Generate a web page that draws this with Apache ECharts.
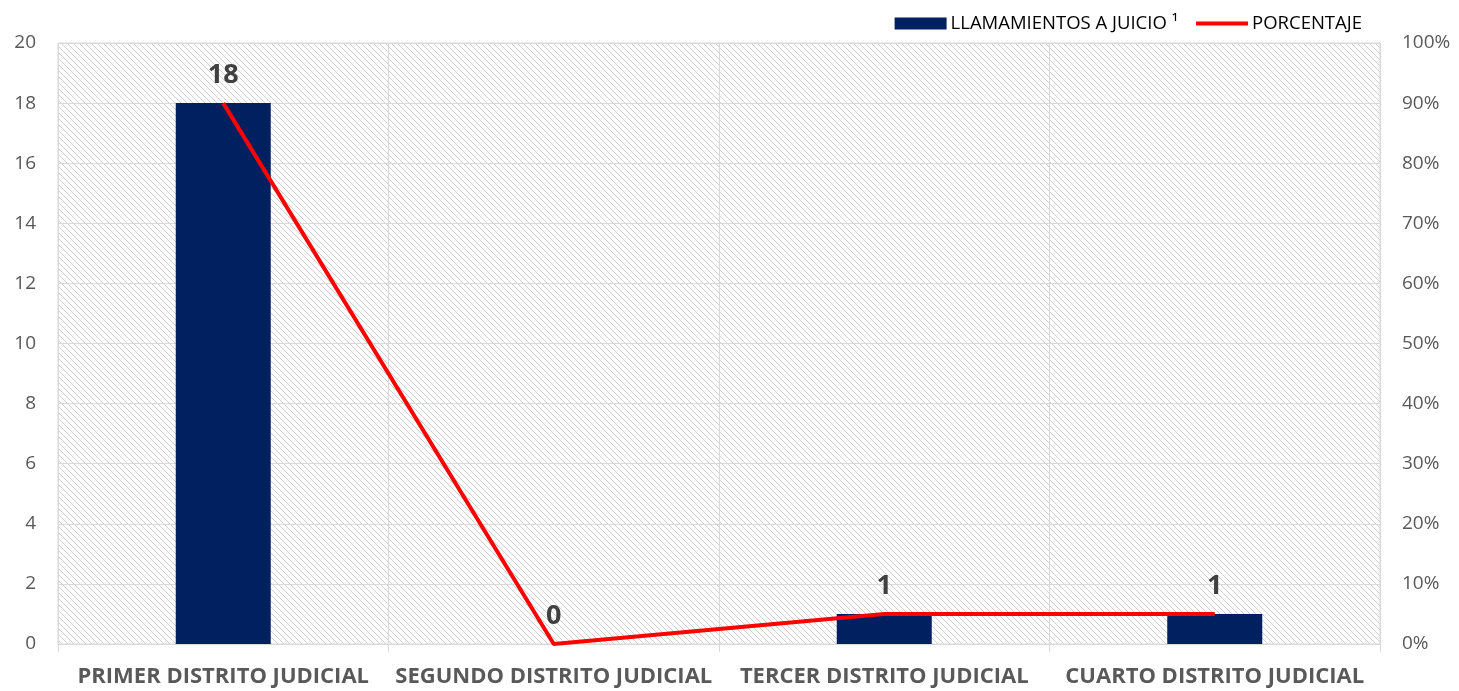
<!DOCTYPE html>
<html><head><meta charset="utf-8">
<script src="https://cdn.jsdelivr.net/npm/echarts@6/dist/echarts.min.js"></script>
<style>html,body{margin:0;padding:0;background:#fff}#c{width:1459px;height:691px}</style>
</head><body><div id="c"></div>
<script>
const categories = ['PRIMER DISTRITO JUDICIAL','SEGUNDO DISTRITO JUDICIAL','TERCER DISTRITO JUDICIAL','CUARTO DISTRITO JUDICIAL'];
const llamamientos = [18, 0, 1, 1];
const porcentaje = [90, 0, 5, 5];
const leftTicks = [0, 20, 2];
const rightTicks = [0, 100, 10];

// hatch pattern
const pc = document.createElement('canvas');
pc.width = 6; pc.height = 6;
const px = pc.getContext('2d');
px.fillStyle = '#ffffff'; px.fillRect(0,0,6,6);
px.strokeStyle = '#d0d0d0'; px.lineWidth = 1;
px.beginPath();
px.moveTo(-1,-1); px.lineTo(7,7);
px.moveTo(-4,2); px.lineTo(4,10);
px.moveTo(2,-4); px.lineTo(10,4);
px.stroke();

const chart = echarts.init(document.getElementById('c'));
const font = 'Open Sans';
chart.setOption({
  animation: false,
  textStyle: {fontFamily: font},
  legend: {
    right: 92, top: 9, itemGap: 18, itemWidth: 52, itemHeight: 12,
    textStyle: {fontSize: 18.5, color: '#000', fontFamily: font, padding: [0, 0, 0, -1]},
    data: [{name: 'LLAMAMIENTOS A JUICIO ¹', icon: 'rect'},
           {name: 'PORCENTAJE', icon: 'path://M0,0 L100,0 L100,8 L0,8 Z'}]
  },
  grid: {left: 58, right: 79, top: 43, bottom: 47, show: true,
    backgroundColor: {image: pc, repeat: 'repeat'}, borderColor: '#d9d9d9', borderWidth: 1},
  xAxis: {
    type: 'category', data: categories,
    axisLine: {show: true, lineStyle: {color: '#d9d9d9', width: 1}},
    axisTick: {show: true, length: 8, lineStyle: {color: '#d9d9d9'}},
    splitLine: {show: true, lineStyle: {color: '#d9d9d9', width: 1}},
    axisLabel: {color: '#595959', fontSize: 22, fontWeight: 'bold', margin: 22, interval: 0, fontFamily: font}
  },
  yAxis: [
    {type: 'value', min: leftTicks[0], max: leftTicks[1], interval: leftTicks[2],
     axisLine: {show: false}, axisTick: {show: false},
     splitLine: {lineStyle: {color: '#d9d9d9', width: 1}},
     axisLabel: {color: '#595959', fontSize: 19, margin: 22, fontFamily: font}},
    {type: 'value', min: rightTicks[0], max: rightTicks[1], interval: rightTicks[2],
     axisLine: {show: false}, axisTick: {show: false}, splitLine: {show: false},
     axisLabel: {color: '#595959', fontSize: 19, margin: 22, formatter: '{value}%', fontFamily: font}}
  ],
  series: [
    {name: 'LLAMAMIENTOS A JUICIO ¹', type: 'bar', data: llamamientos, barWidth: 95,
     itemStyle: {color: '#002060'},
     label: {show: true, position: 'top', distance: 14, color: '#404040', fontSize: 27, fontWeight: 'bold', fontFamily: font}},
    {name: 'PORCENTAJE', type: 'line', yAxisIndex: 1, data: porcentaje,
     symbol: 'none', lineStyle: {color: '#ff0000', width: 4}, itemStyle: {color: '#ff0000'}}
  ]
});
</script></body></html>
